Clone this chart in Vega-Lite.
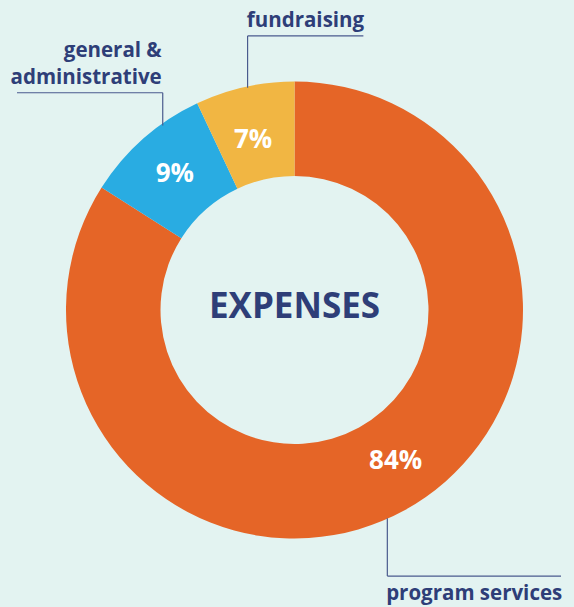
{
  "$schema": "https://vega.github.io/schema/vega-lite/v6.json",
  "width": 574,
  "height": 607,
  "autosize": {"type": "fit", "contains": "padding"},
  "padding": {"left": 14, "top": 11, "right": 0, "bottom": 0},
  "background": "#e3f3f1",
  "config": {"view": {"stroke": null}},
  "datasets": {
    "expenses": [
      {"category": "program services", "share": 84, "order": 1, "label": "84%"},
      {"category": "general & administrative", "share": 9, "order": 2, "label": "9%"},
      {"category": "fundraising", "share": 7, "order": 3, "label": "7%"}
    ],
    "leaders": [
      {"x": 247, "y": 86, "x2": 247, "y2": 34},
      {"x": 247, "y": 34, "x2": 363, "y2": 34},
      {"x": 162, "y": 124, "x2": 162, "y2": 91},
      {"x": 16, "y": 91, "x2": 162, "y2": 91},
      {"x": 387, "y": 518, "x2": 387, "y2": 576},
      {"x": 387, "y": 576, "x2": 561, "y2": 576}
    ],
    "centerNames": [
      {"text": "fundraising", "x": 305, "y": 25},
      {"text": "program services", "x": 474, "y": 600}
    ],
    "rightNames": [
      {"text": "general &", "x": 161, "y": 55},
      {"text": "administrative", "x": 161, "y": 82}
    ],
    "title": [
      {"text": "EXPENSES", "x": 294, "y": 306}
    ]
  },
  "layer": [
    {
      "data": {"name": "expenses"},
      "mark": {"type": "arc", "radius": 228.5, "radius2": 134},
      "encoding": {
        "theta": {"field": "share", "type": "quantitative", "stack": true},
        "order": {"field": "order", "type": "quantitative"},
        "color": {
          "field": "category",
          "type": "nominal",
          "scale": {
            "domain": ["program services", "general & administrative", "fundraising"],
            "range": ["#e56527", "#29ace2", "#f1b643"]
          },
          "legend": null
        }
      }
    },
    {
      "data": {"name": "expenses"},
      "mark": {"type": "text", "radius": 181, "font": "Open Sans", "fontSize": 26, "fontWeight": "bold", "fill": "#ffffff", "baseline": "middle", "align": "center"},
      "encoding": {
        "theta": {"field": "share", "type": "quantitative", "stack": true},
        "order": {"field": "order", "type": "quantitative"},
        "text": {
          "condition": {"test": "datum.category == 'general & administrative'", "field": "label"},
          "value": ""
        }
      }
    },
    {
      "data": {"name": "expenses"},
      "mark": {"type": "text", "radius": 181, "dx": -2, "dy": 7, "font": "Open Sans", "fontSize": 26, "fontWeight": "bold", "fill": "#ffffff", "baseline": "middle", "align": "center"},
      "encoding": {
        "theta": {"field": "share", "type": "quantitative", "stack": true},
        "order": {"field": "order", "type": "quantitative"},
        "text": {
          "condition": {"test": "datum.category == 'fundraising'", "field": "label"},
          "value": ""
        }
      }
    },
    {
      "data": {"name": "expenses"},
      "mark": {"type": "text", "radius": 181, "dx": 14, "dy": -8, "font": "Open Sans", "fontSize": 26, "fontWeight": "bold", "fill": "#ffffff", "baseline": "middle", "align": "center"},
      "encoding": {
        "theta": {"field": "share", "type": "quantitative", "stack": true},
        "order": {"field": "order", "type": "quantitative"},
        "text": {
          "condition": {"test": "datum.category == 'program services'", "field": "label"},
          "value": ""
        }
      }
    },
    {
      "data": {"name": "leaders"},
      "mark": {"type": "rule", "stroke": "#4a5a8e", "strokeWidth": 1.2},
      "encoding": {
        "x": {"field": "x", "type": "quantitative", "scale": {"domain": [14, 574], "nice": false, "zero": false}, "axis": null},
        "y": {"field": "y", "type": "quantitative", "scale": {"domain": [11, 607], "nice": false, "zero": false, "reverse": true}, "axis": null},
        "x2": {"field": "x2"},
        "y2": {"field": "y2"}
      }
    },
    {
      "data": {"name": "centerNames"},
      "mark": {"type": "text", "font": "Open Sans", "fontSize": 20.5, "fontWeight": "bold", "fill": "#2e3e78", "align": "center", "baseline": "alphabetic"},
      "encoding": {
        "x": {"field": "x", "type": "quantitative", "scale": {"domain": [14, 574], "nice": false, "zero": false}, "axis": null},
        "y": {"field": "y", "type": "quantitative", "scale": {"domain": [11, 607], "nice": false, "zero": false, "reverse": true}, "axis": null},
        "text": {"field": "text"}
      }
    },
    {
      "data": {"name": "rightNames"},
      "mark": {"type": "text", "font": "Open Sans", "fontSize": 20.5, "fontWeight": "bold", "fill": "#2e3e78", "align": "right", "baseline": "alphabetic"},
      "encoding": {
        "x": {"field": "x", "type": "quantitative", "scale": {"domain": [14, 574], "nice": false, "zero": false}, "axis": null},
        "y": {"field": "y", "type": "quantitative", "scale": {"domain": [11, 607], "nice": false, "zero": false, "reverse": true}, "axis": null},
        "text": {"field": "text"}
      }
    },
    {
      "data": {"name": "title"},
      "mark": {"type": "text", "font": "Open Sans", "fontSize": 35, "fontWeight": "bold", "fill": "#2e3e78", "align": "center", "baseline": "middle"},
      "encoding": {
        "x": {"field": "x", "type": "quantitative", "scale": {"domain": [14, 574], "nice": false, "zero": false}, "axis": null},
        "y": {"field": "y", "type": "quantitative", "scale": {"domain": [11, 607], "nice": false, "zero": false, "reverse": true}, "axis": null},
        "text": {"field": "text"}
      }
    }
  ]
}
